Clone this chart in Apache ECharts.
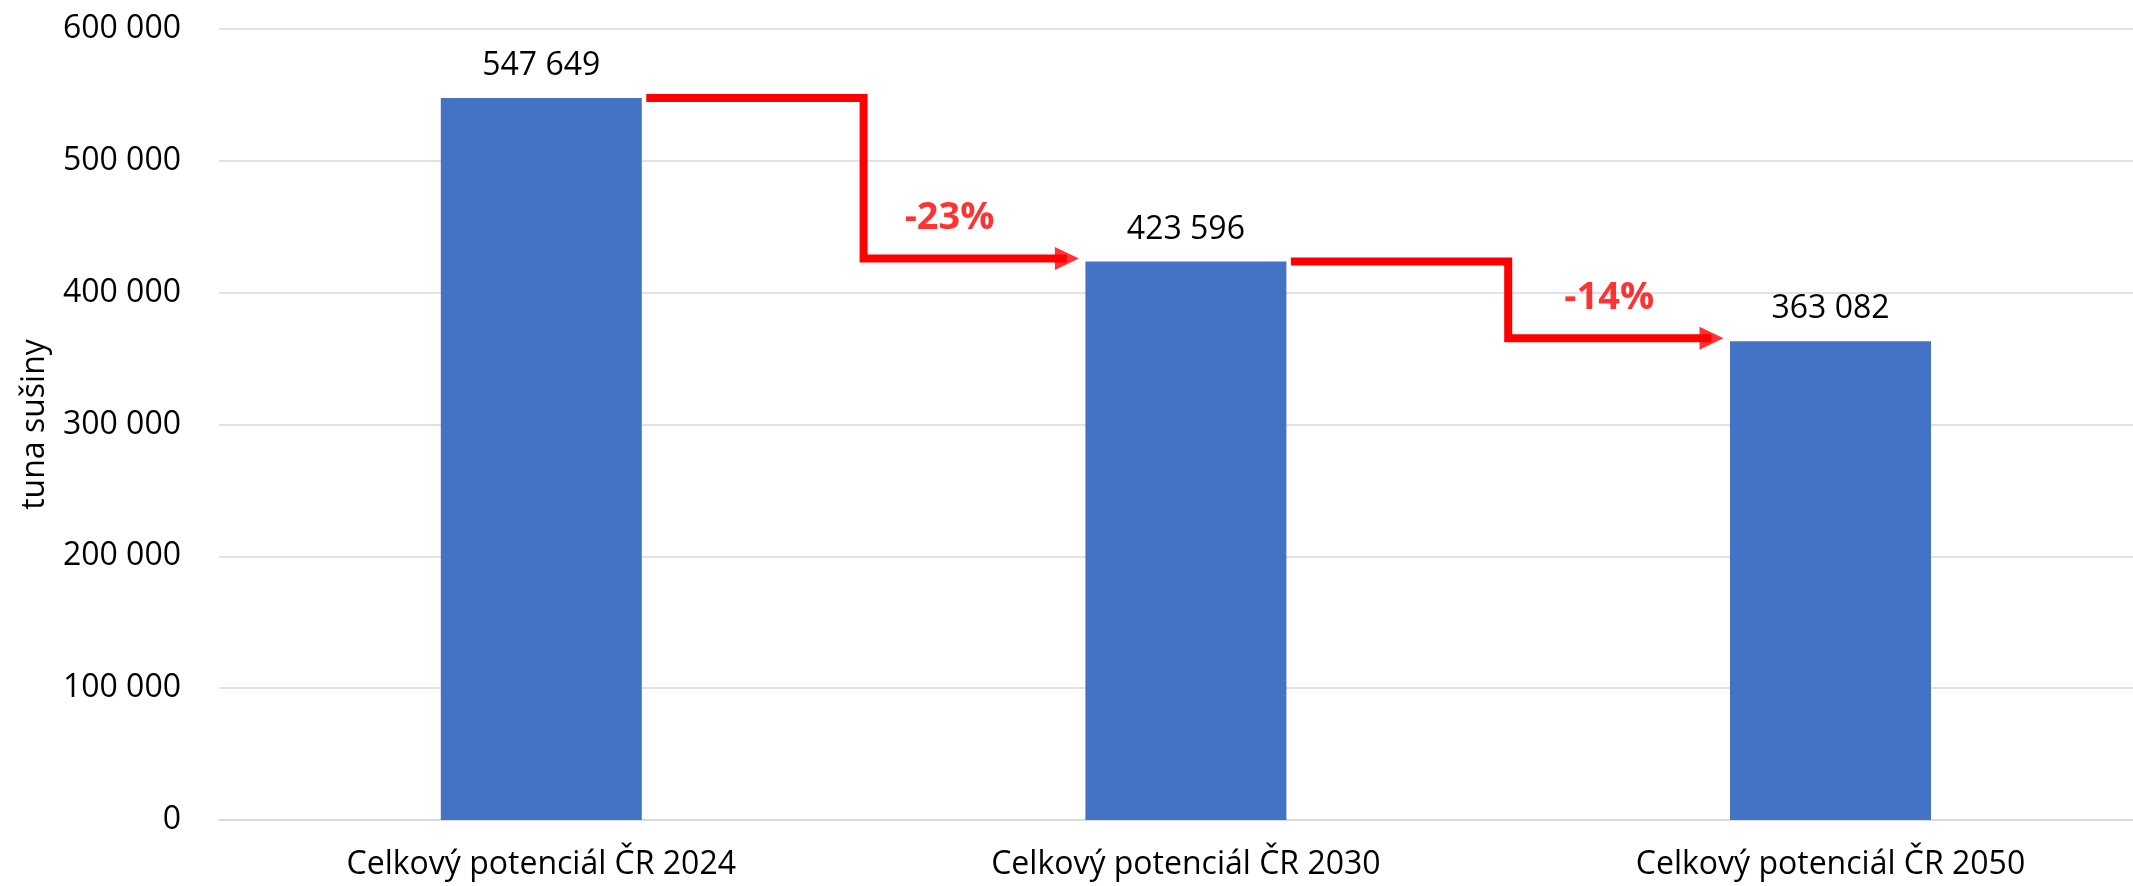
<!DOCTYPE html>
<html>
<head>
<meta charset="utf-8">
<script src="https://cdn.jsdelivr.net/npm/echarts@6/dist/echarts.min.js"></script>
<style>
html,body{margin:0;padding:0;background:#ffffff;}
#chart{width:2133px;height:886px;}
</style>
</head>
<body>
<div id="chart"></div>
<script>
// ---- data ----
const categories = ['Celkový potenciál ČR 2024', 'Celkový potenciál ČR 2030', 'Celkový potenciál ČR 2050'];
const values = [547649, 423596, 363082];
const changeLabels = ['-23%', '-14%'];
const yTickValues = [0, 100000, 200000, 300000, 400000, 500000, 600000];
const yAxisName = 'tuna sušiny';

// ---- layout (pixels) ----
const FONT = '"Open Sans", "Noto Sans", "DejaVu Sans", sans-serif';
const W = 2133, H = 886;
const gridLeft = 219, gridTop = 29, gridBottom = 66;
const gridWidth = W - gridLeft;
const bandPx = 644.6;                       // width of one category slot
const barPx = 201;
const plotHeightPx = H - gridTop - gridBottom;
const yMax = yTickValues[yTickValues.length - 1];
const px2x = p => p / bandPx;              // pixels -> category units
const px2y = p => p / plotHeightPx * yMax; // pixels -> value units
const xMin = -0.5, xMax = xMin + px2x(gridWidth);

const halfBar = px2x(barPx / 2);
const startGap = px2x(4.5);
const tipGap = px2x(6.5);
const arrowLen = 24, arrowWid = 23;
const arrowDrop = px2y(3);
const labelDx = [px2x(86), px2x(101)];
const labelDy = px2y(43);

const fmt = v => String(v).replace(/\B(?=(\d{3})+(?!\d))/g, ' ');

const series = [{
  type: 'bar',
  data: values.map((v, i) => [i, v]),
  barWidth: barPx,
  itemStyle: { color: '#4472C4' },
  label: {
    show: true, position: 'top', distance: 16,
    formatter: p => fmt(p.value[1]),
    fontSize: 32, color: '#000000', fontFamily: FONT
  },
  z: 2
}];

for (let i = 0; i < values.length - 1; i++) {
  const a = values[i], b = values[i + 1];
  const xMid = i + 0.5;
  const xEnd = i + 1 - halfBar - tipGap - px2x(arrowLen / 2);
  series.push({
    type: 'line',
    data: [[i + halfBar + startGap, a], [xMid, a], [xMid, b + arrowDrop], [xEnd, b + arrowDrop]],
    symbol: 'none',
    lineStyle: { color: '#FF0000', width: 8, join: 'miter', cap: 'butt' },
    silent: true,
    z: 5
  });
  series.push({
    type: 'scatter',
    data: [[xEnd, b + arrowDrop]],
    symbol: 'triangle',
    symbolSize: [arrowWid, arrowLen],
    symbolRotate: -90,
    itemStyle: { color: '#FF0000' },
    silent: true,
    z: 6
  });
  series.push({
    type: 'scatter',
    data: [[xMid + labelDx[i], b + labelDy]],
    symbolSize: 0,
    label: {
      show: true, position: 'inside',
      formatter: changeLabels[i],
      fontSize: 38, fontWeight: 'bold', color: '#FF0000', fontFamily: FONT
    },
    silent: true,
    z: 7
  });
}

const chart = echarts.init(document.getElementById('chart'), null, { renderer: 'canvas' });
chart.setOption({
  animation: false,
  backgroundColor: '#ffffff',
  grid: { left: gridLeft, right: 0, top: gridTop, bottom: gridBottom, containLabel: false },
  xAxis: [{
    type: 'value',
    min: xMin, max: xMax,
    axisLine: { show: true, lineStyle: { color: '#D9D9D9', width: 1.5 } },
    axisTick: { show: false },
    splitLine: { show: false },
    axisLabel: {
      customValues: categories.map((c, i) => i),
      formatter: v => categories[Math.round(v)] || '',
      fontSize: 32, color: '#000000', margin: 29, fontFamily: FONT
    }
  }],
  yAxis: [{
    type: 'value',
    min: yTickValues[0], max: yMax, interval: yTickValues[1] - yTickValues[0],
    name: yAxisName,
    nameLocation: 'middle',
    nameRotate: 90,
    nameGap: 168,
    nameTextStyle: { fontSize: 32, color: '#000000', fontFamily: FONT },
    axisLine: { show: false },
    axisTick: { show: false },
    axisLabel: { formatter: v => fmt(v), fontSize: 32, color: '#000000', margin: 38, fontFamily: FONT },
    splitLine: { show: true, lineStyle: { color: '#D9D9D9', width: 1.5 } }
  }],
  series: series
});
</script>
</body>
</html>
